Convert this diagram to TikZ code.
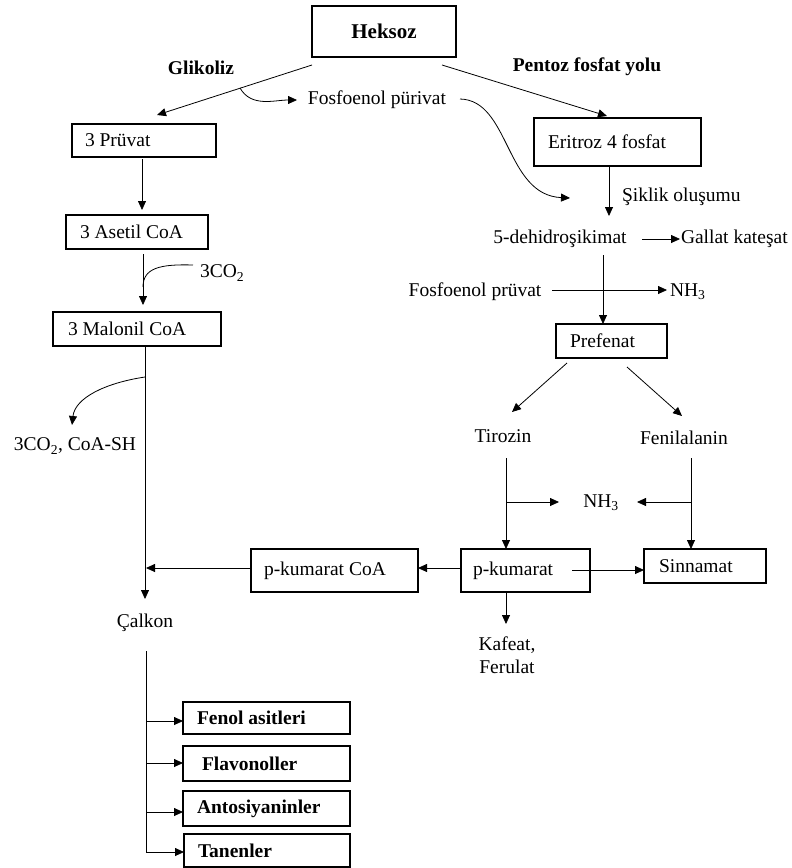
\documentclass[tikz,border=0pt]{standalone}
\usepackage{fontspec}
\setmainfont{Liberation Serif}
\usetikzlibrary{arrows.meta}
\begin{document}
\begin{tikzpicture}[x=1pt,y=-1pt,
  every node/.style={font=\fontsize{19.5}{23}\selectfont, inner sep=0pt, outer sep=0pt},
  bx/.style={draw, line width=1.1pt, align=flush left, inner ysep=0pt},
  bbx/.style={bx, font=\fontsize{19.5}{23}\selectfont\bfseries},
  bold/.style={font=\fontsize{19.5}{23}\selectfont\bfseries},
  ar/.style={line width=0.8pt, -{Triangle[length=9pt,width=8pt]}},
  ln/.style={line width=0.8pt}]
\useasboundingbox (0,0) rectangle (792,868);

% boxes
\node[bx, minimum width=144pt, minimum height=51pt, align=center, font=\fontsize{21}{24}\selectfont\bfseries] (heksoz) at (384,31.5) {Heksoz};
\node[bx, text width=118pt, inner xsep=13pt, minimum height=33pt] (pruvat) at (144,140.5) {3 Prüvat};
\node[bx, text width=114pt, inner xsep=14pt, minimum height=34pt] (asetil) at (137,232) {3 Asetil CoA};
\node[bx, text width=138pt, inner xsep=15pt, minimum height=34pt] (malonil) at (137,329) {3 Malonil CoA};
\node[bx, text width=139pt, inner xsep=14pt, minimum height=48pt] (eritroz) at (617.5,142) {Eritroz 4 fosfat};
\node[bx, text width=83pt, inner xsep=14pt, minimum height=34pt] (prefenat) at (611.5,341) {Prefenat};
\node[bx, text width=141pt, inner xsep=13pt, minimum height=43pt] (pkcoa) at (334.5,570.5) {p-kumarat CoA};
\node[bx, text width=105pt, inner xsep=12pt, minimum height=43pt] (pkumarat) at (525.5,570.5) {p-kumarat};
\node[bx, text width=92pt, inner xsep=15pt, minimum height=34pt] (sinnamat) at (705,566) {Sinnamat};
\node[bbx, text width=139pt, inner xsep=14pt, minimum height=32pt] (fenol) at (266.5,718) {Fenol asitleri};
\node[bbx, text width=129pt, inner xsep=19pt, minimum height=35pt] (flavon) at (266.5,763.5) {Flavonoller};
\node[bbx, text width=139pt, inner xsep=14pt, minimum height=35pt] (antosi) at (266.5,808.5) {Antosiyaninler};
\node[bbx, text width=138pt, inner xsep=14pt, minimum height=33pt] (tanen) at (267,850.5) {Tanenler};

% text labels
\node[bold] (glik) at (201,68) {Glikoliz};
\node[bold] (pentoz) at (587,67) {Pentoz fosfat yolu};
\node (fpur1) at (377,100) {Fosfoenol pürivat};
\node[anchor=west] (siklik) at (622,197) {Şiklik oluşumu};
\node (dehidro) at (560,239) {5-dehidroşikimat};
\node[anchor=west] (gallat) at (681,239) {Gallat kateşat};
\node (fpur2) at (475,292) {Fosfoenol prüvat};
\node[anchor=west] (nh3a) at (670,292) {NH\textsubscript{3}};
\node (tirozin) at (503,436) {Tirozin};
\node (fenil) at (684,438) {Fenilalanin};
\node (nh3b) at (601,503) {NH\textsubscript{3}};
\node[align=center] (kafeat) at (507,655) {Kafeat,\\Ferulat};
\node (calkon) at (145,623) {Çalkon};
\node[anchor=west] (co2) at (200,273) {3CO\textsubscript{2}};
\node (co2coa) at (75,446) {3CO\textsubscript{2}, CoA-SH};

% coordinates
\coordinate (hl0) at (312,65);  \coordinate (hl1) at (157,115);
\coordinate (hr0) at (442,65);  \coordinate (hr1) at (607,116);
\coordinate (gb) at (240,88);   \coordinate (fp1w) at (297,100);
\coordinate (fp1e) at (460,99); \coordinate (fpc) at (570,198);
\coordinate (pr0) at (142,159); \coordinate (pr1) at (142,210);
\coordinate (as0) at (143,254); \coordinate (as1) at (143,305);
\coordinate (co2s) at (193,265); \coordinate (co2j) at (143,287);
\coordinate (ma0) at (145,346); \coordinate (ma1) at (145,599);
\coordinate (mab) at (145,377); \coordinate (mac) at (72,425);
\coordinate (er0) at (609,166); \coordinate (er1) at (609,216);
\coordinate (dh0) at (642,239); \coordinate (dh1) at (680,239);
\coordinate (dv0) at (603,255);
\coordinate (fp20) at (552,290); \coordinate (fp21) at (667,290);
\coordinate (pf0) at (567,363); \coordinate (pf1) at (512,412);
\coordinate (pf2) at (627,367); \coordinate (pf3) at (682,416);
\coordinate (tz0) at (506,458); \coordinate (tzb) at (506,502); \coordinate (tzn) at (559,502);
\coordinate (fn0) at (691,458); \coordinate (fnb) at (691,502); \coordinate (fnn) at (637,502);
\coordinate (pk0) at (572,570);
\coordinate (pkc0) at (146,568);
\coordinate (kf0) at (506,592); \coordinate (kf1) at (506,624);
\coordinate (ck0) at (146,651); \coordinate (ck4) at (146,852);
\coordinate (ck1) at (146,721); \coordinate (ck2) at (146,763); \coordinate (ck3) at (146,812);

% connectors
\draw[ar] (hl0) -- (hl1);
\draw[ar] (hr0) -- (hr1);
\draw[ar] (gb) to[out=-60,in=180] (fp1w);
\draw[ar] (fp1e) .. controls (510,100) and (505,195) .. (fpc);
\draw[ar] (pr0) -- (pr1);
\draw[ar] (as0) -- (as1);
\draw[ln] (co2s) .. controls (160,264) and (143,268) .. (co2j);
\draw[ar] (ma0) -- (ma1);
\draw[ar] (mab) .. controls (105,383) and (75,398) .. (mac);
\draw[ar] (er0) -- (er1);
\draw[ar] (dh0) -- (dh1);
\draw[ar] (dv0) -- (prefenat.north -| dv0);
\draw[ar] (fp20) -- (fp21);
\draw[ar] (pf0) -- (pf1);
\draw[ar] (pf2) -- (pf3);
\draw[ar] (tz0) -- (pkumarat.north -| tz0);
\draw[ar] (tzb) -- (tzn);
\draw[ar] (fn0) -- (sinnamat.north -| fn0);
\draw[ar] (fnb) -- (fnn);
\draw[ar] (pk0) -- (sinnamat.west |- pk0);
\draw[ar] (pkumarat.west |- pkc0) -- (pkcoa.east |- pkc0);
\draw[ar] (pkcoa.west |- pkc0) -- (pkc0);
\draw[ar] (kf0) -- (kf1);
\draw[ar] (ck0) -- (ck4) -- (tanen.west |- ck4);
\draw[ar] (ck1) -- (fenol.west |- ck1);
\draw[ar] (ck2) -- (flavon.west |- ck2);
\draw[ar] (ck3) -- (antosi.west |- ck3);
\end{tikzpicture}
\end{document}
